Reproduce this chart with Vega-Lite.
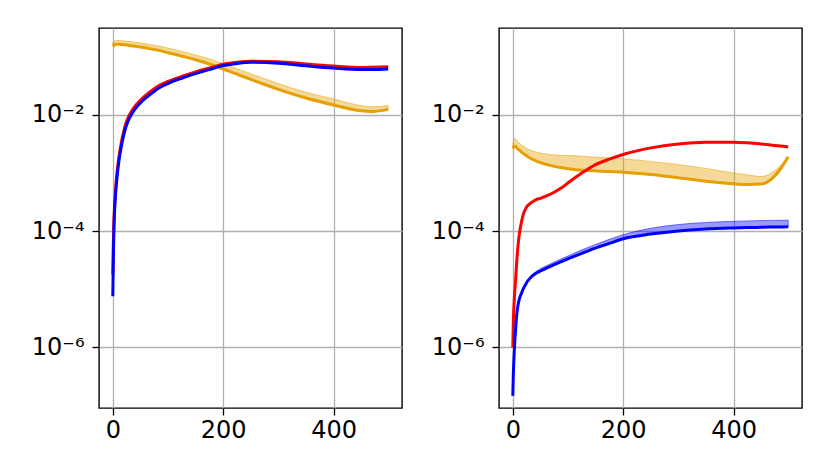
{
  "$schema": "https://vega.github.io/schema/vega-lite/v6.json",
  "padding": {"left": 30, "top": 27, "right": 5, "bottom": 5},
  "background": "white",
  "bounds": "flush",
  "spacing": 97,
  "datasets": {
    "left": [
      {"x": 0, "o": 1.514e-1, "ohi": 1.738e-1, "r": 1.778e-5, "b": 7.586e-6},
      {"x": 1, "o": 1.531e-1, "ohi": 1.799e-1, "r": 6.310e-5, "b": 3.548e-5},
      {"x": 2, "o": 1.585e-1, "ohi": 1.841e-1, "r": 1.413e-4, "b": 1.047e-4},
      {"x": 3, "o": 1.603e-1, "ohi": 1.862e-1, "r": 2.512e-4, "b": 1.995e-4},
      {"x": 4, "o": 1.614e-1, "ohi": 1.875e-1, "r": 3.715e-4, "b": 3.020e-4},
      {"x": 5, "o": 1.622e-1, "ohi": 1.884e-1, "r": 5.248e-4, "b": 4.266e-4},
      {"x": 6.5, "o": 1.633e-1, "ohi": 1.897e-1, "r": 7.762e-4, "b": 6.457e-4},
      {"x": 8, "o": 1.641e-1, "ohi": 1.905e-1, "r": 1.096e-3, "b": 9.120e-4},
      {"x": 11, "o": 1.641e-1, "ohi": 1.905e-1, "r": 1.862e-3, "b": 1.585e-3},
      {"x": 14, "o": 1.633e-1, "ohi": 1.897e-1, "r": 2.818e-3, "b": 2.399e-3},
      {"x": 18, "o": 1.622e-1, "ohi": 1.884e-1, "r": 4.416e-3, "b": 3.802e-3},
      {"x": 23, "o": 1.603e-1, "ohi": 1.862e-1, "r": 6.761e-3, "b": 5.888e-3},
      {"x": 28, "o": 1.585e-1, "ohi": 1.841e-1, "r": 9.120e-3, "b": 7.943e-3},
      {"x": 34, "o": 1.549e-1, "ohi": 1.820e-1, "r": 1.161e-2, "b": 1.023e-2},
      {"x": 42, "o": 1.514e-1, "ohi": 1.778e-1, "r": 1.479e-2, "b": 1.318e-2},
      {"x": 53, "o": 1.462e-1, "ohi": 1.718e-1, "r": 1.905e-2, "b": 1.718e-2},
      {"x": 66, "o": 1.380e-1, "ohi": 1.622e-1, "r": 2.427e-2, "b": 2.188e-2},
      {"x": 83, "o": 1.288e-1, "ohi": 1.531e-1, "r": 3.162e-2, "b": 2.884e-2},
      {"x": 100, "o": 1.175e-1, "ohi": 1.413e-1, "r": 3.758e-2, "b": 3.467e-2},
      {"x": 126, "o": 1.023e-1, "ohi": 1.230e-1, "r": 4.624e-2, "b": 4.315e-2},
      {"x": 150, "o": 8.913e-2, "ohi": 1.072e-1, "r": 5.495e-2, "b": 5.129e-2},
      {"x": 180, "o": 7.244e-2, "ohi": 8.913e-2, "r": 6.607e-2, "b": 6.237e-2},
      {"x": 200, "o": 6.166e-2, "ohi": 7.586e-2, "r": 7.413e-2, "b": 7.079e-2},
      {"x": 225, "o": 5.012e-2, "ohi": 6.237e-2, "r": 8.035e-2, "b": 7.674e-2},
      {"x": 250, "o": 4.074e-2, "ohi": 5.129e-2, "r": 8.414e-2, "b": 8.035e-2},
      {"x": 300, "o": 2.754e-2, "ohi": 3.467e-2, "r": 8.222e-2, "b": 7.762e-2},
      {"x": 350, "o": 1.950e-2, "ohi": 2.455e-2, "r": 7.499e-2, "b": 6.998e-2},
      {"x": 400, "o": 1.479e-2, "ohi": 1.884e-2, "r": 6.918e-2, "b": 6.383e-2},
      {"x": 450, "o": 1.175e-2, "ohi": 1.445e-2, "r": 6.531e-2, "b": 6.026e-2},
      {"x": 470, "o": 1.148e-2, "ohi": 1.380e-2, "r": 6.607e-2, "b": 6.026e-2},
      {"x": 499, "o": 1.245e-2, "ohi": 1.445e-2, "r": 6.761e-2, "b": 6.166e-2}
    ],
    "right": [
      {"x": 0, "o": 2.65e-3, "ohi": 3.090e-3, "r": 1.0e-6, "b": 1.479e-7, "bhi": 1.479e-7},
      {"x": 1, "o": 2.754e-3, "ohi": 3.548e-3, "r": 2.818e-6, "b": 3.548e-7, "bhi": 3.548e-7},
      {"x": 2, "o": 2.851e-3, "ohi": 3.758e-3, "r": 5.012e-6, "b": 6.310e-7, "bhi": 6.310e-7},
      {"x": 3, "o": 2.884e-3, "ohi": 3.846e-3, "r": 7.586e-6, "b": 1.0e-6, "bhi": 1.0e-6},
      {"x": 5, "o": 2.897e-3, "ohi": 3.890e-3, "r": 1.380e-5, "b": 1.995e-6, "bhi": 1.995e-6},
      {"x": 7, "o": 2.754e-3, "ohi": 3.715e-3, "r": 2.818e-5, "b": 3.548e-6, "bhi": 3.548e-6},
      {"x": 9, "o": 2.600e-3, "ohi": 3.467e-3, "r": 5.129e-5, "b": 5.012e-6, "bhi": 5.012e-6},
      {"x": 11, "o": 2.512e-3, "ohi": 3.311e-3, "r": 7.586e-5, "b": 6.310e-6, "bhi": 6.310e-6},
      {"x": 13, "o": 2.427e-3, "ohi": 3.162e-3, "r": 1.047e-4, "b": 7.413e-6, "bhi": 7.413e-6},
      {"x": 16, "o": 2.291e-3, "ohi": 3.020e-3, "r": 1.479e-4, "b": 8.710e-6, "bhi": 8.710e-6},
      {"x": 19, "o": 2.163e-3, "ohi": 2.917e-3, "r": 1.950e-4, "b": 1.023e-5, "bhi": 1.023e-5},
      {"x": 23, "o": 2.042e-3, "ohi": 2.754e-3, "r": 2.399e-4, "b": 1.202e-5, "bhi": 1.202e-5},
      {"x": 26, "o": 1.950e-3, "ohi": 2.630e-3, "r": 2.692e-4, "b": 1.349e-5, "bhi": 1.349e-5},
      {"x": 32, "o": 1.799e-3, "ohi": 2.483e-3, "r": 3.020e-4, "b": 1.585e-5, "bhi": 1.622e-5},
      {"x": 38, "o": 1.679e-3, "ohi": 2.371e-3, "r": 3.311e-4, "b": 1.778e-5, "bhi": 1.884e-5},
      {"x": 44, "o": 1.585e-3, "ohi": 2.265e-3, "r": 3.548e-4, "b": 1.928e-5, "bhi": 2.089e-5},
      {"x": 50, "o": 1.514e-3, "ohi": 2.213e-3, "r": 3.673e-4, "b": 2.065e-5, "bhi": 2.265e-5},
      {"x": 62, "o": 1.396e-3, "ohi": 2.113e-3, "r": 4.074e-4, "b": 2.344e-5, "bhi": 2.570e-5},
      {"x": 75, "o": 1.303e-3, "ohi": 2.056e-3, "r": 4.677e-4, "b": 2.661e-5, "bhi": 2.951e-5},
      {"x": 89, "o": 1.230e-3, "ohi": 2.018e-3, "r": 5.623e-4, "b": 3.020e-5, "bhi": 3.388e-5},
      {"x": 104, "o": 1.175e-3, "ohi": 1.995e-3, "r": 7.244e-4, "b": 3.467e-5, "bhi": 3.890e-5},
      {"x": 125, "o": 1.122e-3, "ohi": 1.941e-3, "r": 1.0e-3, "b": 4.169e-5, "bhi": 4.786e-5},
      {"x": 147, "o": 1.096e-3, "ohi": 1.884e-3, "r": 1.349e-3, "b": 5.012e-5, "bhi": 5.754e-5},
      {"x": 175, "o": 1.059e-3, "ohi": 1.820e-3, "r": 1.738e-3, "b": 6.166e-5, "bhi": 7.244e-5},
      {"x": 200, "o": 1.035e-3, "ohi": 1.754e-3, "r": 2.089e-3, "b": 7.413e-5, "bhi": 8.710e-5},
      {"x": 250, "o": 9.462e-4, "ohi": 1.585e-3, "r": 2.710e-3, "b": 8.913e-5, "bhi": 1.122e-4},
      {"x": 300, "o": 8.279e-4, "ohi": 1.403e-3, "r": 3.162e-3, "b": 1.012e-4, "bhi": 1.303e-4},
      {"x": 350, "o": 7.261e-4, "ohi": 1.202e-3, "r": 3.388e-3, "b": 1.089e-4, "bhi": 1.413e-4},
      {"x": 400, "o": 6.531e-4, "ohi": 1.007e-3, "r": 3.388e-3, "b": 1.135e-4, "bhi": 1.479e-4},
      {"x": 425, "o": 6.383e-4, "ohi": 9.333e-4, "r": 3.311e-3, "b": 1.153e-4, "bhi": 1.503e-4},
      {"x": 450, "o": 6.457e-4, "ohi": 8.710e-4, "r": 3.162e-3, "b": 1.167e-4, "bhi": 1.521e-4},
      {"x": 470, "o": 8.128e-4, "ohi": 1.023e-3, "r": 3.020e-3, "b": 1.178e-4, "bhi": 1.535e-4},
      {"x": 485, "o": 1.175e-3, "ohi": 1.349e-3, "r": 2.917e-3, "b": 1.183e-4, "bhi": 1.542e-4},
      {"x": 499, "o": 1.905e-3, "ohi": 1.905e-3, "r": 2.818e-3, "b": 1.189e-4, "bhi": 1.549e-4}
    ]
  },
  "config": {
    "view": {"stroke": "black", "strokeWidth": 1.4},
    "axis": {
      "labelFont": "DejaVu Sans", "labelFontSize": 24, "labelColor": "black",
      "tickColor": "black", "tickSize": 7, "tickWidth": 1.3,
      "gridColor": "#b0b0b0", "gridWidth": 1.3, "domain": false, "title": null
    },
    "axisX": {"labelPadding": 3},
    "axisY": {"labelPadding": 8}
  },
  "hconcat": [
    {
      "width": 303, "height": 380,
      "data": {"name": "left"},
      "layer": [
        {"mark": {"type": "area", "color": "#e69f00", "fillOpacity": 0.4, "stroke": "#e69f00", "strokeOpacity": 0.5, "strokeWidth": 1, "interpolate": "monotone"},
         "encoding": {
           "x": {"field": "x", "type": "quantitative", "scale": {"domain": [-25, 524], "nice": false, "zero": false}, "axis": {"values": [0, 200, 400]}},
           "y": {"field": "o", "type": "quantitative", "scale": {"type": "log", "domain": [9.1e-8, 0.3126], "nice": false}, "axis": {"values": [1e-6, 1e-4, 1e-2], "labelExpr": "datum.value < 5e-6 ? '10⁻⁶' : datum.value < 5e-4 ? '10⁻⁴' : '10⁻²'"}},
           "y2": {"field": "ohi"}
         }},
        {"mark": {"type": "line", "color": "#e69f00", "strokeWidth": 3, "interpolate": "monotone"},
         "encoding": {
           "x": {"field": "x", "type": "quantitative", "scale": {"domain": [-25, 524], "nice": false, "zero": false}, "axis": {"values": [0, 200, 400]}},
           "y": {"field": "o", "type": "quantitative", "scale": {"type": "log", "domain": [9.1e-8, 0.3126], "nice": false}, "axis": {"values": [1e-6, 1e-4, 1e-2], "labelExpr": "datum.value < 5e-6 ? '10⁻⁶' : datum.value < 5e-4 ? '10⁻⁴' : '10⁻²'"}}
         }},
        {"mark": {"type": "line", "color": "#ff0000", "strokeWidth": 3, "interpolate": "monotone"},
         "encoding": {
           "x": {"field": "x", "type": "quantitative", "scale": {"domain": [-25, 524], "nice": false, "zero": false}, "axis": {"values": [0, 200, 400]}},
           "y": {"field": "r", "type": "quantitative", "scale": {"type": "log", "domain": [9.1e-8, 0.3126], "nice": false}, "axis": {"values": [1e-6, 1e-4, 1e-2], "labelExpr": "datum.value < 5e-6 ? '10⁻⁶' : datum.value < 5e-4 ? '10⁻⁴' : '10⁻²'"}}
         }},
        {"mark": {"type": "line", "color": "#0000ff", "strokeWidth": 3, "interpolate": "monotone"},
         "encoding": {
           "x": {"field": "x", "type": "quantitative", "scale": {"domain": [-25, 524], "nice": false, "zero": false}, "axis": {"values": [0, 200, 400]}},
           "y": {"field": "b", "type": "quantitative", "scale": {"type": "log", "domain": [9.1e-8, 0.3126], "nice": false}, "axis": {"values": [1e-6, 1e-4, 1e-2], "labelExpr": "datum.value < 5e-6 ? '10⁻⁶' : datum.value < 5e-4 ? '10⁻⁴' : '10⁻²'"}}
         }}
      ]
    },
    {
      "width": 303, "height": 380,
      "data": {"name": "right"},
      "layer": [
        {"mark": {"type": "area", "color": "#e69f00", "fillOpacity": 0.4, "stroke": "#e69f00", "strokeOpacity": 0.5, "strokeWidth": 1, "interpolate": "monotone"},
         "encoding": {
           "x": {"field": "x", "type": "quantitative", "scale": {"domain": [-25, 524], "nice": false, "zero": false}, "axis": {"values": [0, 200, 400]}},
           "y": {"field": "o", "type": "quantitative", "scale": {"type": "log", "domain": [9.1e-8, 0.3126], "nice": false}, "axis": {"values": [1e-6, 1e-4, 1e-2], "labelExpr": "datum.value < 5e-6 ? '10⁻⁶' : datum.value < 5e-4 ? '10⁻⁴' : '10⁻²'"}},
           "y2": {"field": "ohi"}
         }},
        {"mark": {"type": "area", "color": "#0000ff", "fillOpacity": 0.4, "stroke": "#0000ff", "strokeOpacity": 0.5, "strokeWidth": 1, "interpolate": "monotone"},
         "encoding": {
           "x": {"field": "x", "type": "quantitative", "scale": {"domain": [-25, 524], "nice": false, "zero": false}, "axis": {"values": [0, 200, 400]}},
           "y": {"field": "b", "type": "quantitative", "scale": {"type": "log", "domain": [9.1e-8, 0.3126], "nice": false}, "axis": {"values": [1e-6, 1e-4, 1e-2], "labelExpr": "datum.value < 5e-6 ? '10⁻⁶' : datum.value < 5e-4 ? '10⁻⁴' : '10⁻²'"}},
           "y2": {"field": "bhi"}
         }},
        {"mark": {"type": "line", "color": "#e69f00", "strokeWidth": 3, "interpolate": "monotone"},
         "encoding": {
           "x": {"field": "x", "type": "quantitative", "scale": {"domain": [-25, 524], "nice": false, "zero": false}, "axis": {"values": [0, 200, 400]}},
           "y": {"field": "o", "type": "quantitative", "scale": {"type": "log", "domain": [9.1e-8, 0.3126], "nice": false}, "axis": {"values": [1e-6, 1e-4, 1e-2], "labelExpr": "datum.value < 5e-6 ? '10⁻⁶' : datum.value < 5e-4 ? '10⁻⁴' : '10⁻²'"}}
         }},
        {"mark": {"type": "line", "color": "#ff0000", "strokeWidth": 3, "interpolate": "monotone"},
         "encoding": {
           "x": {"field": "x", "type": "quantitative", "scale": {"domain": [-25, 524], "nice": false, "zero": false}, "axis": {"values": [0, 200, 400]}},
           "y": {"field": "r", "type": "quantitative", "scale": {"type": "log", "domain": [9.1e-8, 0.3126], "nice": false}, "axis": {"values": [1e-6, 1e-4, 1e-2], "labelExpr": "datum.value < 5e-6 ? '10⁻⁶' : datum.value < 5e-4 ? '10⁻⁴' : '10⁻²'"}}
         }},
        {"mark": {"type": "line", "color": "#0000ff", "strokeWidth": 3, "interpolate": "monotone"},
         "encoding": {
           "x": {"field": "x", "type": "quantitative", "scale": {"domain": [-25, 524], "nice": false, "zero": false}, "axis": {"values": [0, 200, 400]}},
           "y": {"field": "b", "type": "quantitative", "scale": {"type": "log", "domain": [9.1e-8, 0.3126], "nice": false}, "axis": {"values": [1e-6, 1e-4, 1e-2], "labelExpr": "datum.value < 5e-6 ? '10⁻⁶' : datum.value < 5e-4 ? '10⁻⁴' : '10⁻²'"}}
         }}
      ]
    }
  ]
}
